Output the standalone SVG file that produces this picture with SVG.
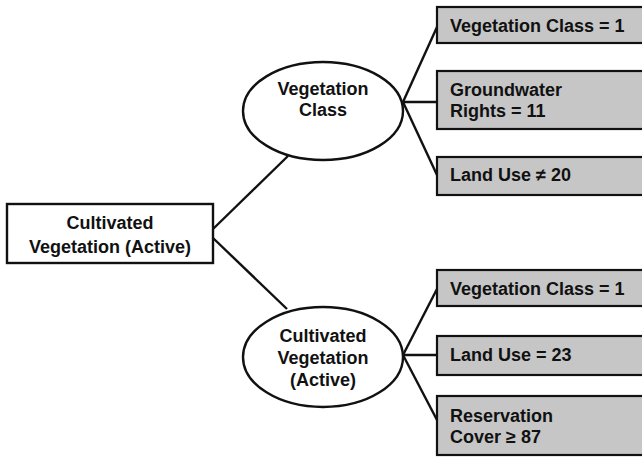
<svg xmlns="http://www.w3.org/2000/svg" width="642" height="457" viewBox="0 0 642 457">
<style>
text{font-family:"Liberation Sans",Arial,sans-serif;font-weight:bold;font-size:18px;fill:#111}
.c{text-anchor:middle}
.box{fill:#c6c6c6;stroke:#111;stroke-width:2.2}
.node{fill:#fff;stroke:#111;stroke-width:2.4}
.edge{stroke:#111;stroke-width:2.4;fill:none}
</style>
<rect width="642" height="457" fill="#fff"/>
<g id="connectors">
<line class="edge" x1="213" y1="229" x2="288" y2="156"/>
<line class="edge" x1="213" y1="238" x2="287" y2="309"/>
<line class="edge" x1="403" y1="102" x2="437" y2="27"/>
<line class="edge" x1="403" y1="102" x2="437" y2="102"/>
<line class="edge" x1="403" y1="102" x2="437" y2="175"/>
<line class="edge" x1="403" y1="355" x2="437" y2="289"/>
<line class="edge" x1="403" y1="355" x2="437" y2="355"/>
<line class="edge" x1="403" y1="355" x2="437" y2="420"/>
</g>
<g id="root">
<rect class="node" x="7" y="204" width="206" height="59"/>
<text class="c" x="110" y="229">Cultivated</text>
<text class="c" x="110" y="253">Vegetation (Active)</text>
</g>
<g id="vegclass">
<ellipse class="node" cx="323" cy="111" rx="80" ry="49"/>
<text class="c" x="323" y="95">Vegetation</text>
<text class="c" x="323" y="116">Class</text>
</g>
<g id="cultveg">
<ellipse class="node" cx="323" cy="357" rx="80" ry="50"/>
<text class="c" x="323" y="342">Cultivated</text>
<text class="c" x="323" y="364">Vegetation</text>
<text class="c" x="323" y="386">(Active)</text>
</g>
<g id="b1">
<rect class="box" x="437" y="7" width="215" height="36"/>
<text x="450" y="32">Vegetation Class = 1</text>
</g>
<g id="b2">
<rect class="box" x="437" y="71" width="215" height="58"/>
<text x="450" y="96">Groundwater</text>
<text x="450" y="117">Rights = 11</text>
</g>
<g id="b3">
<rect class="box" x="437" y="157" width="215" height="38"/>
<text x="450" y="181">Land Use ≠ 20</text>
</g>
<g id="b4">
<rect class="box" x="437" y="270" width="215" height="36"/>
<text x="450" y="295">Vegetation Class = 1</text>
</g>
<g id="b5">
<rect class="box" x="437" y="336" width="215" height="39"/>
<text x="450" y="361">Land Use = 23</text>
</g>
<g id="b6">
<rect class="box" x="437" y="396" width="215" height="59"/>
<text x="450" y="422">Reservation</text>
<text x="450" y="443">Cover ≥ 87</text>
</g>
</svg>
